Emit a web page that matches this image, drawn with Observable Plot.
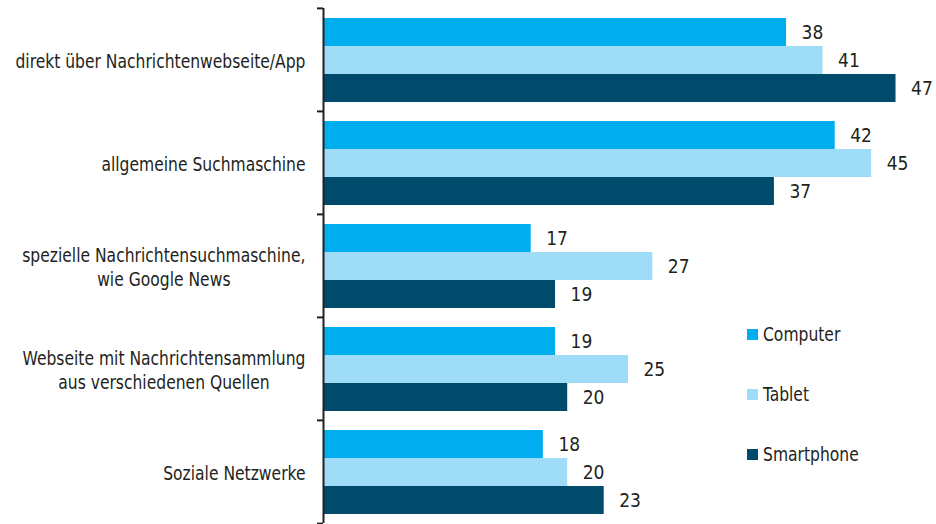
<!DOCTYPE html>
<html>
<head>
<meta charset="utf-8">
<script src="https://cdn.jsdelivr.net/npm/d3@7"></script>
<script src="https://cdn.jsdelivr.net/npm/@observablehq/plot@0.6"></script>
<style>
  body { margin: 0; background: #fff; }
  #wrap { position: relative; width: 936px; height: 524px; font-family: "Liberation Sans Narrow", "DejaVu Sans Condensed", "Arial Narrow", sans-serif; color: #231f20; }
  #legend { position: absolute; left: 747px; top: 323px; font-size: 19px; }
  #legend .item { display: flex; align-items: center; height: 22px; margin-bottom: 38px; }
  #legend .sw { width: 11px; height: 11px; margin-right: 5px; flex: none; }
  #legend .lab { display: inline-block; transform: scaleX(0.91); transform-origin: left center; }
</style>
</head>
<body>
<div id="wrap"><div id="legend"></div></div>
<script>
const categories = [
  "direkt über Nachrichtenwebseite/App",
  "allgemeine Suchmaschine",
  "spezielle Nachrichtensuchmaschine,\nwie Google News",
  "Webseite mit Nachrichtensammlung\naus verschiedenen Quellen",
  "Soziale Netzwerke"
];
const series = ["Computer", "Tablet", "Smartphone"];
const computer = [38, 42, 17, 19, 18];
const tablet = [41, 45, 27, 25, 20];
const smartphone = [47, 37, 19, 20, 23];
const colors = ["#00aeef", "#9fdcf8", "#004b6c"];

const valuesBySeries = [computer, tablet, smartphone];
const data = [];
categories.forEach((c, i) => series.forEach((s, j) => data.push({category: c, series: s, value: valuesBySeries[j][i]})));

const W = 936, H = 524, mTop = 7, mBottom = 1;
const step = (H - mTop - mBottom) / categories.length;
const font = '"Liberation Sans Narrow", "DejaVu Sans Condensed", "Arial Narrow", sans-serif';
const squeeze = 0.91;

const chart = Plot.plot({
  width: W,
  height: H,
  marginLeft: 324,
  marginRight: 4,
  marginTop: mTop,
  marginBottom: mBottom,
  style: {fontFamily: font, fontSize: "19px", color: "#231f20", background: "transparent"},
  x: {domain: [0, 50], axis: null},
  y: {domain: series, paddingInner: 0, paddingOuter: 0.28, align: 0.55, axis: null},
  fy: {domain: categories, padding: 0, label: null},
  color: {domain: series, range: colors},
  marks: [
    Plot.barX(data, {x: "value", y: "series", fy: "category", fill: "series"}),
    Plot.text(data, {x: "value", y: "series", fy: "category", text: d => String(d.value), dx: 15, textAnchor: "start", fill: "#231f20", fontSize: 19}),
    Plot.ruleX([0], {stroke: "#231f20", strokeWidth: 2, dx: -1}),
    Plot.axisFy({anchor: "left", tickSize: 0, tickPadding: 19, fontSize: 19, lineHeight: 1.3, label: null, fill: "#231f20"}),
    Plot.axisFy({anchor: "left", tickSize: 6, tickPadding: 0, tickFormat: () => "", label: null, dy: -step / 2, dx: -1, strokeWidth: 2, stroke: "#231f20"}),
    Plot.axisFy({anchor: "left", ticks: [categories[categories.length - 1]], tickSize: 6, tickPadding: 0, tickFormat: () => "", label: null, dy: step / 2, dx: -1, strokeWidth: 2, stroke: "#231f20"})
  ]
});

const wrap = document.getElementById("wrap");
wrap.insertBefore(chart, wrap.firstChild);

// narrow the category labels; center multi-line labels within their block (right edge kept)
const catTexts = new Set(categories.map(c => c.replace(/\n/g, "")));
chart.querySelectorAll("text").forEach(t => {
  if (!catTexts.has(t.textContent)) return;
  const spans = t.querySelectorAll("tspan");
  const tr = t.getAttribute("transform") || "";
  if (spans.length > 1) {
    const w = t.getBBox().width;
    t.setAttribute("text-anchor", "middle");
    t.setAttribute("transform", tr + ` translate(${-squeeze * w / 2},0) scale(${squeeze},1)`);
  } else {
    t.setAttribute("transform", tr + ` scale(${squeeze},1)`);
  }
});

const legend = document.getElementById("legend");
series.forEach((s, i) => {
  const item = document.createElement("div");
  item.className = "item";
  const sw = document.createElement("span");
  sw.className = "sw";
  sw.style.background = colors[i];
  const lab = document.createElement("span");
  lab.className = "lab";
  lab.textContent = s;
  item.appendChild(sw);
  item.appendChild(lab);
  legend.appendChild(item);
});
</script>
</body>
</html>
